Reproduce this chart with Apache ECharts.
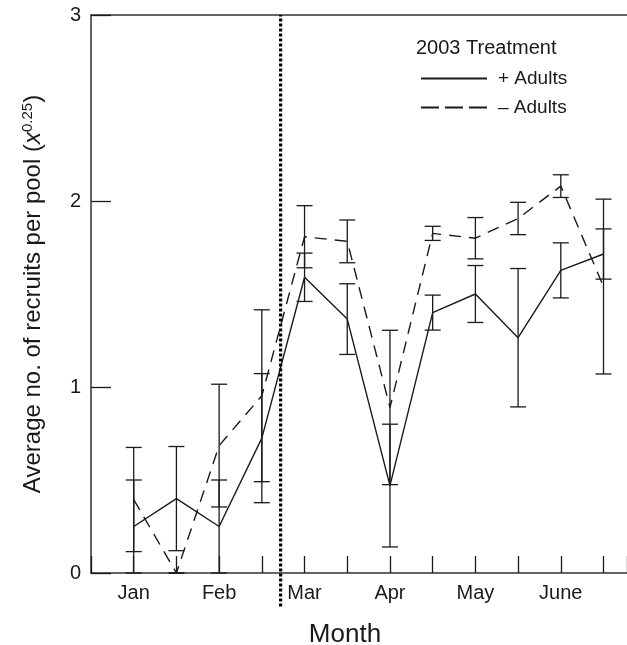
<!DOCTYPE html>
<html>
<head>
<meta charset="utf-8">
<script src="https://cdn.jsdelivr.net/npm/echarts@6/dist/echarts.min.js"></script>
<style>
  html, body { margin: 0; padding: 0; background: #fff; }
  #chart { width: 627px; height: 645px; }
</style>
</head>
<body>
<div id="chart"></div>
<script>
// sampling points, two per month
const months = ["Jan", "", "Feb", "", "Mar", "", "Apr", "", "May", "", "June", ""];
// + Adults (solid) mean and error
const plusAdults = [0.25, 0.40, 0.25, 0.725, 1.59, 1.365, 0.47, 1.40, 1.50, 1.265, 1.627, 1.715];
const plusErr = [0.25, 0.28, 0.25, 0.347, 0.13, 0.19, 0.33, 0.094, 0.153, 0.372, 0.148, 0.135];
// - Adults (dashed) mean and error
const minusAdults = [0.395, 0, 0.685, 0.953, 1.808, 1.783, 0.89, 1.826, 1.80, 1.906, 2.08, 1.54];
const minusErr = [0.28, 0, 0.33, 0.462, 0.167, 0.115, 0.415, 0.038, 0.111, 0.087, 0.061, 0.47];
const yTicks = [0, 1, 2, 3];
// treatment change (dotted line), x position and y span
const dividerX = 3.44;
const dividerSpan = [-0.18, 3];

const ink = "#1a1a1a";
const font = "'Liberation Sans', Arial, Helvetica, sans-serif";

let chart = echarts.init(document.getElementById("chart"));

function toPoints(vals) {
  return vals.map((v, i) => [i, v]);
}
function toBars(vals, errs) {
  return vals.map((v, i) => [i, Math.max(0, v - errs[i]), v + errs[i]]);
}

function renderErr(params, api) {
  let x = api.value(0);
  let top = api.coord([x, api.value(2)]);
  let bot = api.coord([x, api.value(1)]);
  let w = 8;
  let style = { stroke: ink, lineWidth: 1.3 };
  return {
    type: "group",
    children: [
      { type: "line", shape: { x1: top[0], y1: top[1], x2: bot[0], y2: bot[1] }, style },
      { type: "line", shape: { x1: top[0] - w, y1: top[1], x2: top[0] + w, y2: top[1] }, style },
      { type: "line", shape: { x1: bot[0] - w, y1: bot[1], x2: bot[0] + w, y2: bot[1] }, style }
    ]
  };
}

let option = {
  animation: false,
  textStyle: { fontFamily: font, color: ink },
  title: [
    {
      text: "Month",
      left: 340,
      top: 617,
      textAlign: "center",
      textStyle: { fontFamily: font, fontSize: 26, fontWeight: "normal", color: ink }
    },
    {
      text: "2003 Treatment",
      left: 416,
      top: 38,
      padding: 0,
      textStyle: { fontFamily: font, fontSize: 20, fontWeight: "normal", color: ink }
    }
  ],
  legend: {
    orient: "vertical",
    left: 420,
    top: 69,
    padding: 0,
    itemWidth: 66,
    itemHeight: 14,
    itemGap: 10,
    itemStyle: { opacity: 0 },
    data: [
      { name: "+ Adults" },
      { name: "\u2013 Adults", lineStyle: { type: [18, 6] } }
    ],
    textStyle: { fontFamily: font, fontSize: 19, color: ink, padding: [0, 0, 0, 6] }
  },
  grid: {
    left: 91,
    right: 0,
    top: 15,
    bottom: 72,
    outerBoundsMode: "none"
  },
  xAxis: [
    {
      type: "value",
      min: -1,
      max: 11.55,
      interval: 1,
      axisLine: { show: true, lineStyle: { color: "#333", width: 1.5 } },
      axisTick: { show: true, inside: true, length: 17, lineStyle: { color: ink, width: 1.3 } },
      axisLabel: {
        margin: 10,
        fontSize: 20,
        color: ink,
        fontFamily: font,
        formatter: v => (Number.isInteger(v) && months[v]) || ""
      },
      splitLine: { show: false }
    },
    {
      type: "value",
      position: "top",
      min: -1,
      max: 11.55,
      axisLine: { show: true, onZero: false, lineStyle: { color: "#333", width: 1.5 } },
      axisTick: { show: false },
      axisLabel: { show: false },
      splitLine: { show: false }
    }
  ],
  yAxis: {
    type: "value",
    min: yTicks[0],
    max: yTicks[yTicks.length - 1],
    interval: 1,
    name: "Average no. of recruits per pool ({it|x}{sup|0.25})",
    nameLocation: "middle",
    nameGap: 44,
    nameTextStyle: {
      fontFamily: font,
      fontSize: 24,
      color: ink,
      rich: {
        it: { fontFamily: font, fontSize: 24, fontStyle: "italic", color: ink },
        sup: { fontFamily: font, fontSize: 15, color: ink, padding: [0, 0, 12, 0] }
      }
    },
    axisLine: { show: true, onZero: false, lineStyle: { color: "#333", width: 1.5 } },
    axisTick: { show: true, inside: true, length: 20, lineStyle: { color: ink, width: 1.3 } },
    axisLabel: { margin: 10, fontSize: 20, color: ink, fontFamily: font },
    splitLine: { show: false }
  },
  series: [
    {
      name: "+ Adults",
      type: "line",
      symbol: "none",
      data: toPoints(plusAdults),
      lineStyle: { color: ink, width: 1.4 },
      itemStyle: { color: ink },
      z: 3
    },
    {
      name: "\u2013 Adults",
      type: "line",
      symbol: "none",
      data: toPoints(minusAdults),
      lineStyle: { color: ink, width: 1.4, type: [12, 8] },
      itemStyle: { color: ink },
      z: 3
    },
    {
      name: "plusErr",
      type: "custom",
      renderItem: renderErr,
      encode: { x: 0, y: [1, 2] },
      data: toBars(plusAdults, plusErr),
      z: 2
    },
    {
      name: "minusErr",
      type: "custom",
      renderItem: renderErr,
      encode: { x: 0, y: [1, 2] },
      data: toBars(minusAdults, minusErr),
      z: 2
    },
    {
      name: "divider",
      type: "custom",
      clip: false,
      silent: true,
      renderItem: function (params, api) {
        let a = api.coord([api.value(0), api.value(1)]);
        let b = api.coord([api.value(0), api.value(2)]);
        return {
          type: "line",
          shape: { x1: a[0], y1: a[1], x2: b[0], y2: b[1] },
          style: { stroke: "#000", lineWidth: 3.2, lineDash: [3, 2] }
        };
      },
      encode: { x: 0, y: [1, 2] },
      data: [[dividerX, dividerSpan[0], dividerSpan[1]]],
      z: 4
    }
  ]
};

chart.setOption(option, true);
window.addEventListener("resize", () => {
  chart.resize();
});
</script>
</body>
</html>
